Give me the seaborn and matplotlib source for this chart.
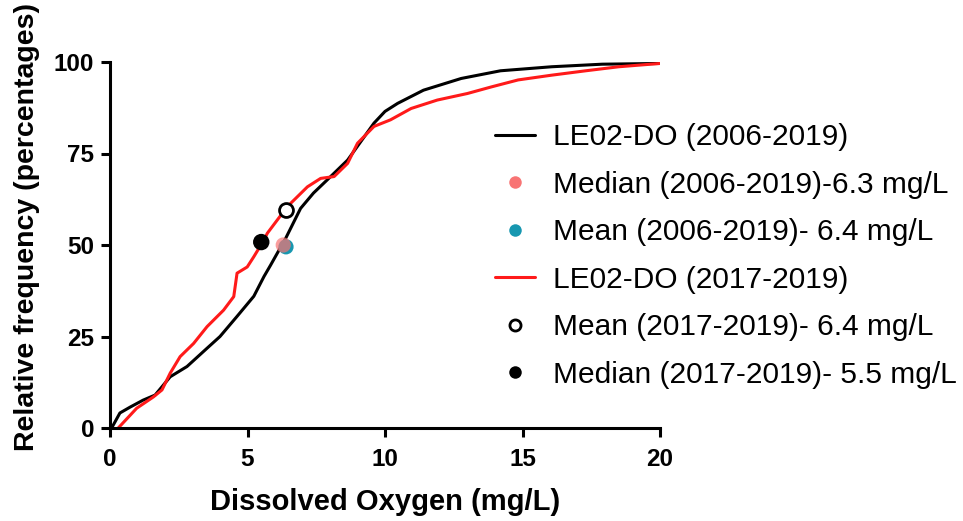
import numpy as np
import pandas as pd
import seaborn as sns
import matplotlib.pyplot as plt
from matplotlib.lines import Line2D

# cumulative curves
do_all_x = [0.0, 0.06, 0.36, 0.73, 1.2, 1.64, 2.19, 2.8, 3.53, 4.0, 4.62, 5.23, 5.6, 5.84,
            6.4, 6.93, 7.4, 7.9, 8.64, 9.6, 10.0, 10.46, 11.4, 12.77, 14.2, 16.06, 17.9, 20.0]
do_all_y = [0.0, 0.0, 4.1, 5.7, 7.6, 9.0, 14.0, 16.8, 21.8, 25.0, 30.5, 36.0, 41.4, 44.5,
            52.0, 60.0, 64.2, 67.8, 73.2, 83.3, 86.5, 88.7, 92.3, 95.5, 97.6, 98.7, 99.4, 99.6]

do_new_x = [0.3, 0.97, 1.58, 1.89, 2.19, 2.55, 3.04, 3.53, 4.13, 4.5, 4.62, 4.99, 5.23, 5.6, 5.72,
            6.45, 7.18, 7.66, 8.15, 8.64, 9.0, 9.6, 10.2, 10.95, 11.9, 13.0, 13.87, 14.84, 16.06,
            17.3, 18.5, 20.0]
do_new_y = [0.0, 5.4, 8.5, 10.4, 15.0, 19.5, 23.1, 27.7, 32.2, 35.9, 42.3, 44.0, 46.8, 51.4, 53.2,
            60.5, 65.9, 68.2, 68.7, 72.3, 77.8, 82.4, 84.2, 87.3, 89.6, 91.4, 93.2, 95.1, 96.4,
            97.6, 98.7, 99.6]

# summary points
stat_labels = ['Median (2006-2019)-6.3 mg/L', 'Mean (2006-2019)- 6.4 mg/L',
               'Mean (2017-2019)- 6.4 mg/L', 'Median (2017-2019)- 5.5 mg/L']
stat_x = [6.3, 6.4, 6.4, 5.5]
stat_y = [50.0, 49.5, 59.6, 50.8]

line_labels = ['LE02-DO (2006-2019)', 'LE02-DO (2017-2019)']

sns.set_style('ticks')
plt.rcParams['font.family'] = ['Liberation Sans', 'DejaVu Sans']
plt.rcParams['text.color'] = 'black'

fig = plt.figure(figsize=(9.63, 5.21), dpi=100)
ax = fig.add_axes([110/963, 1-428/521, 550/963, 366/521])

df_all = pd.DataFrame({'x': do_all_x, 'y': do_all_y})
df_new = pd.DataFrame({'x': do_new_x, 'y': do_new_y})
sns.lineplot(data=df_all, x='x', y='y', color='black', lw=2.2, sort=False, estimator=None, ax=ax)
sns.lineplot(data=df_new, x='x', y='y', color='#ff1a1a', lw=2.2, sort=False, estimator=None, ax=ax)

teal = '#1797b0'
salmon = '#f87474'
sns.scatterplot(x=[stat_x[1]], y=[stat_y[1]], color=teal, s=120, edgecolor='none', ax=ax, zorder=4)
sns.scatterplot(x=[stat_x[0]], y=[stat_y[0]], color=salmon, s=120, edgecolor='none', alpha=0.7, ax=ax, zorder=5)
sns.scatterplot(x=[stat_x[2]], y=[stat_y[2]], color='white', s=100, edgecolor='black', linewidth=2, ax=ax, zorder=5)
sns.scatterplot(x=[stat_x[3]], y=[stat_y[3]], color='black', s=140, edgecolor='none', ax=ax, zorder=5)

ax.set_xlim(0, 20)
ax.set_ylim(0, 100)
ax.set_xticks([0, 5, 10, 15, 20])
ax.set_yticks([0, 25, 50, 75, 100])
ax.tick_params(width=2.2, length=6.5, labelsize=17.5, color='black', labelcolor='black')
ax.tick_params(axis='x', pad=8)
ax.tick_params(axis='y', pad=5)
for lab in ax.get_xticklabels() + ax.get_yticklabels():
    lab.set_fontweight('bold')
for s in ['left', 'bottom']:
    ax.spines[s].set_linewidth(2.2)
    ax.spines[s].set_color('black')
sns.despine(ax=ax)
ax.set_xlabel('Dissolved Oxygen (mg/L)', fontsize=21, fontweight='bold', color='black')
ax.set_ylabel('Relative frequency (percentages)', fontsize=20.5, fontweight='bold', color='black')
ax.xaxis.set_label_coords(0.5, -(502 - 428) / 366, transform=ax.transAxes)
ax.xaxis.label.set_va('center')
ax.yaxis.set_label_coords(-(110 - 27) / 550, (428 - 227) / 366, transform=ax.transAxes)
ax.yaxis.label.set_va('center')

handles = [
    Line2D([], [], color='black', lw=2.2),
    Line2D([], [], ls='none', marker='o', ms=9, mfc=salmon, mec='none'),
    Line2D([], [], ls='none', marker='o', ms=9, mfc=teal, mec='none'),
    Line2D([], [], color='#ff1a1a', lw=2.2),
    Line2D([], [], ls='none', marker='o', ms=8, mfc='white', mec='black', mew=2),
    Line2D([], [], ls='none', marker='o', ms=9, mfc='black', mec='none'),
]
labels = [line_labels[0], stat_labels[0], stat_labels[1], line_labels[1], stat_labels[2], stat_labels[3]]
fig.legend(handles, labels, loc='upper left', bbox_to_anchor=(489/963, 1-117/521), frameon=False,
           fontsize=21.5, handlelength=1.34, handletextpad=0.6, labelspacing=0.655, borderaxespad=0,
           borderpad=0.2)

fig.savefig('out.png', dpi=100)
